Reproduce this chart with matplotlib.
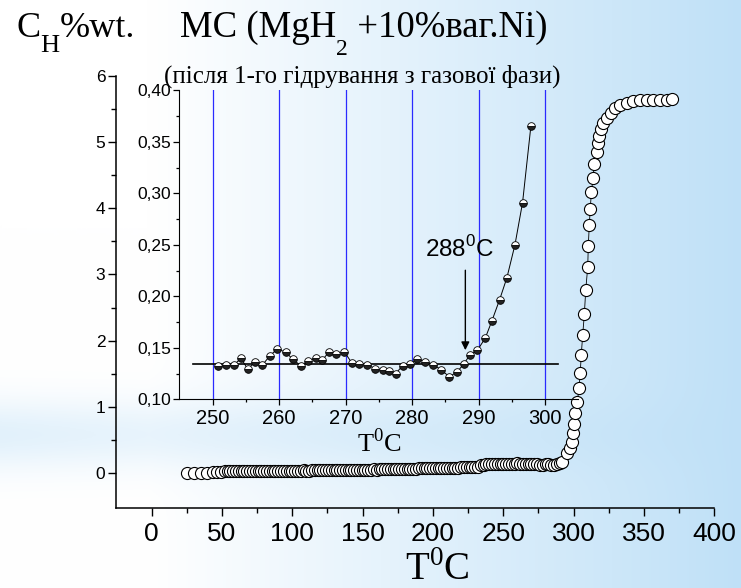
import numpy as np
import matplotlib
matplotlib.use("Agg")
import matplotlib.pyplot as plt

plt.rcParams["font.family"] = ["Liberation Sans", "DejaVu Sans"]
plt.rcParams["mathtext.fontset"] = "custom"
plt.rcParams["mathtext.rm"] = "Liberation Serif"

# ---- main curve: hydrogen content vs temperature ----
t_main = [24.8, 30.2, 34.9, 39.6, 43.9, 46.7, 49.6, 52,
          54, 56, 58, 60, 62, 64, 66, 68, 70, 72,
          74, 76, 78, 80, 82, 84, 86, 88, 90, 92,
          94, 96, 98, 100, 102, 104, 106, 108, 110, 112,
          114, 116, 118, 120, 122, 124, 126, 128, 130, 132,
          134, 136, 138, 140, 142, 144, 146, 148, 150, 152,
          154, 156, 158, 160, 162, 164, 166, 168, 170, 172,
          174, 176, 178, 180, 182, 184, 186, 188, 190, 192,
          194, 196, 198, 200, 202, 204, 206, 208, 210, 212,
          214, 216, 218, 220, 222, 224, 226, 228, 230, 232,
          234, 236, 238, 240, 242, 244, 246, 248, 250, 252,
          254, 256, 258, 260, 262, 264, 266, 268, 270, 272,
          274, 276, 278, 280, 282, 284, 286, 288, 290, 292,
          295.1, 297.4, 298.6, 299.3, 300.2, 301.0, 302.6, 303.8, 304.7,
          305.4, 306.4, 307.6, 308.6, 310.0, 310.4, 311.1, 311.8, 312.6,
          313.8, 314.7, 316.4, 317.3, 318.2, 319.5, 321.1, 323.5, 326.3,
          329.4, 333.0, 337.7, 342.4, 347.2, 351.9, 356.6, 361.4, 366.2, 370.2]
c_main = [0.000, 0.002, 0.004, 0.008, 0.012, 0.018, 0.024, 0.028,
          0.030, 0.032, 0.031, 0.033, 0.034, 0.032, 0.033, 0.035, 0.034, 0.033,
          0.034, 0.036, 0.035, 0.034, 0.036, 0.037, 0.035, 0.036, 0.038, 0.037,
          0.036, 0.038, 0.039, 0.040, 0.038, 0.040, 0.041, 0.042, 0.040, 0.041,
          0.043, 0.044, 0.042, 0.044, 0.045, 0.046, 0.045, 0.047, 0.048, 0.046,
          0.048, 0.049, 0.050, 0.051, 0.049, 0.051, 0.052, 0.053, 0.054, 0.052,
          0.054, 0.056, 0.057, 0.056, 0.058, 0.060, 0.059, 0.061, 0.062, 0.063,
          0.064, 0.063, 0.065, 0.067, 0.066, 0.068, 0.070, 0.071, 0.072, 0.074,
          0.075, 0.076, 0.074, 0.077, 0.079, 0.080, 0.078, 0.081, 0.083, 0.082,
          0.084, 0.086, 0.085, 0.087, 0.089, 0.088, 0.090, 0.092, 0.091, 0.094,
          0.120, 0.128, 0.132, 0.134, 0.133, 0.135, 0.134, 0.133, 0.134, 0.135,
          0.140, 0.132, 0.138, 0.148, 0.139, 0.134, 0.139, 0.145, 0.145, 0.135,
          0.132, 0.128, 0.128, 0.137, 0.136, 0.130, 0.123, 0.138, 0.150, 0.176,
          0.30, 0.377, 0.468, 0.60, 0.744, 0.905, 1.08, 1.28, 1.52,
          1.785, 2.08, 2.40, 2.77, 3.11, 3.43, 3.74, 3.99, 4.245,
          4.456, 4.667, 4.853, 4.98, 5.094, 5.19, 5.28, 5.357, 5.43,
          5.51, 5.557, 5.59, 5.62, 5.64, 5.633, 5.633, 5.64, 5.64, 5.645]

# ---- inset: zoom on the onset region ----
t_ins = [250.85, 252.0, 253.25, 254.26, 255.26, 256.4, 257.46, 258.57,
         259.7, 260.97, 262.07, 263.27, 264.4, 265.5, 266.5, 267.5, 268.6,
         269.8, 270.95, 272.05, 273.25, 274.4, 275.56, 276.56, 277.5,
         278.57, 279.7, 280.8, 281.97, 283.2, 284.3, 285.6, 286.8, 287.8,
         288.7, 289.8, 291.0, 292.0, 293.15, 294.25, 295.46, 296.6, 297.86]
c_ins = [0.1326, 0.1333, 0.1336, 0.1398, 0.1297, 0.136, 0.133, 0.142,
         0.1488, 0.1459, 0.1388, 0.1326, 0.1369, 0.1404, 0.1382, 0.1459,
         0.1443, 0.1462, 0.1352, 0.1346, 0.1336, 0.1297, 0.1285, 0.1275,
         0.1249, 0.1326, 0.1346, 0.1391, 0.1362, 0.1336, 0.1289, 0.1219,
         0.1268, 0.1346, 0.1433, 0.1475, 0.1595, 0.1763, 0.1967, 0.2181,
         0.2501, 0.2909, 0.3656]
baseline = 0.134
grid_t = [250, 260, 270, 280, 290, 300]
onset_t = 288

W, H = 741, 588
fig = plt.figure(figsize=(W / 100, H / 100), dpi=100)
renderer = fig.canvas.get_renderer()

# background gradient (white upper-left -> light blue right)
bg = fig.add_axes([0, 0, 1, 1], zorder=-10)
xx, yy = np.meshgrid(np.linspace(0, 1, 300), np.linspace(0, 1, 240))
a = np.clip((xx - 0.2) * 1.25, 0, 1)
a = np.clip(a + 0.45 * np.exp(-((yy - 0.74) / 0.06) ** 2) * (1 - xx), 0, 1)
white = np.array([1.0, 1.0, 1.0])
blue = np.array([0.75, 0.88, 0.97])
img = white * (1 - a[..., None]) + blue * a[..., None]
bg.imshow(img, aspect="auto", extent=[0, 1, 0, 1], origin="upper")
bg.axis("off")

# main axes
ax = fig.add_axes([0.1572, 0.1366, 0.8068, 0.7347])
ax.patch.set_alpha(0)
ax.plot(t_main, c_main, "-", color="black", lw=0.6, marker="o", ms=8.7,
        mfc="white", mec="black", mew=0.8)
ax.set_xlim(-25, 400)
ax.set_ylim(-0.52, 6)
ax.set_xticks([0, 50, 100, 150, 200, 250, 300, 350, 400])
ax.set_xticks([25, 75, 125, 175, 225, 275, 325, 375], minor=True)
ax.set_yticks([0, 1, 2, 3, 4, 5, 6])
ax.set_yticks([0.5, 1.5, 2.5, 3.5, 4.5, 5.5], minor=True)
for s in ["top", "right"]:
    ax.spines[s].set_visible(False)
for s in ["left", "bottom"]:
    ax.spines[s].set_linewidth(1.1)
ax.tick_params(which="major", length=6, width=1.0)
ax.tick_params(which="minor", length=3.5, width=1.0)
ax.tick_params(axis="x", labelsize=19, pad=4)
ax.tick_params(axis="y", labelsize=12.5, pad=2)
fig.text(437 / W, 1 - 580 / H, r"T$^\mathregular{0}$C", fontsize=28,
         family="Liberation Serif", ha="center", va="baseline")

# inset axes
ins = fig.add_axes([0.242, 0.3209, 0.5386, 0.5255])
ins.patch.set_alpha(0)
for gt in grid_t:
    ins.axvline(gt, color="#2a2aff", lw=0.9, zorder=1)
ins.plot([247, 302], [baseline, baseline], color="black", lw=1.2, zorder=2)
ins.plot(t_ins, c_ins, "-", color="black", lw=0.7, marker="o", ms=5.5,
         fillstyle="bottom", mfc="#222222", mfcalt="white", mec="black",
         mew=0.6, zorder=3)
ins.annotate("", xy=(onset_t, 0.145), xytext=(onset_t, 0.228),
             arrowprops=dict(arrowstyle="-|>", color="black", lw=1.0,
                             mutation_scale=12))
ins.text(287.2, 0.246, r"288$^\mathregular{0}$C", fontsize=17.5, ha="center",
         va="center")
ins.set_xlim(245, 305)
ins.set_ylim(0.10, 0.40)
ins.set_xticks(grid_t)
ins.set_xticks([255, 265, 275, 285, 295], minor=True)
ins.set_yticks([0.10, 0.15, 0.20, 0.25, 0.30, 0.35, 0.40])
ins.set_yticks([0.125, 0.175, 0.225, 0.275, 0.325, 0.375], minor=True)
ins.set_yticklabels(["0,10", "0,15", "0,20", "0,25", "0,30", "0,35", "0,40"])
for s in ["top", "right"]:
    ins.spines[s].set_visible(False)
ins.tick_params(which="major", length=4, width=0.9)
ins.tick_params(which="minor", length=2.5, width=0.9)
ins.tick_params(axis="x", labelsize=14.5, pad=3)
ins.tick_params(axis="y", labelsize=12.5, pad=2)
ins.set_xlabel(r"T$^\mathregular{0}$C", fontsize=19, family="Liberation Serif",
               labelpad=0)


def chain(x_px, pieces):
    """Write text pieces one after another; each piece is
    (text, fontsize, baseline in px from top)."""
    x = x_px
    for txt, size, base in pieces:
        t = fig.text(x / W, 1 - base / H, txt, fontsize=size,
                     family="Liberation Serif", va="baseline")
        x += t.get_window_extent(renderer).width


# titles
chain(16, [("C", 26, 37), ("H", 19, 52), ("%wt.", 26, 37)])
chain(180, [("MC (MgH", 26.5, 37), ("2", 17, 55), (" +10%ваг.Ni)", 26.5, 37)])
fig.text(0.221, 0.859, "(після 1-го гідрування з газової фази)", fontsize=18,
         family="Liberation Serif", va="baseline")

fig.savefig("out.png", dpi=100)
